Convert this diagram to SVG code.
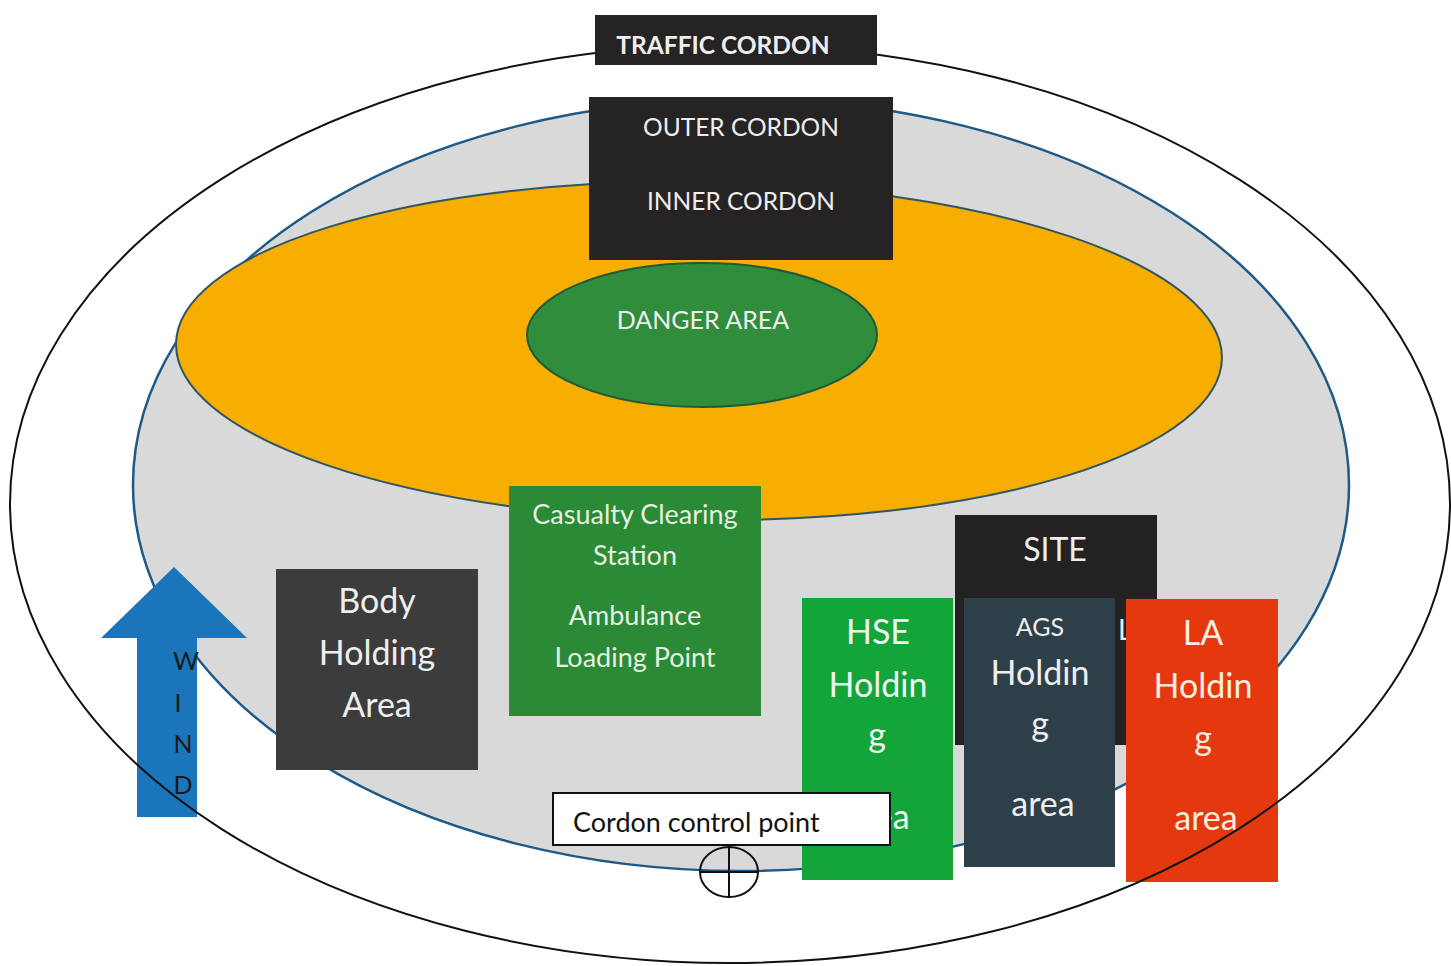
<svg xmlns="http://www.w3.org/2000/svg" width="1451" height="966" viewBox="0 0 1451 966">
<style>
text{font-family:Lato,"Liberation Sans",sans-serif;text-anchor:middle}
.w{fill:#eeeeee}
.big{font-size:34px}
.mid{font-size:27px}
</style>
<rect width="1451" height="966" fill="#ffffff"/>
<g id="outer-cordon-area">
<ellipse cx="741" cy="485" rx="608" ry="386" fill="#d9d9d9" stroke="#1d5a88" stroke-width="2.5"/>
</g>
<g id="inner-cordon-area">
<ellipse cx="699" cy="351" rx="523" ry="169" fill="#f7ae00" stroke="#2e5566" stroke-width="2" transform="rotate(0.8 699 351)"/>
</g>
<g id="danger-area">
<ellipse cx="702" cy="335" rx="175" ry="72" fill="#2f8d3c" stroke="#1f5a3a" stroke-width="2"/>
<text x="703" y="329" class="w" style="font-size:25px">DANGER AREA</text>
</g>
<g id="outer-inner-cordon">
<rect x="589" y="97" width="304" height="163" fill="#262324"/>
<text x="741" y="136" class="w" style="font-size:24.5px">OUTER CORDON</text>
<text x="741" y="210" class="w" style="font-size:24.5px">INNER CORDON</text>
</g>
<g id="casualty-clearing">
<rect x="509" y="486" width="252" height="230" fill="#2a8a36"/>
<text x="635" y="524" class="mid" fill="#e6efe2">Casualty Clearing</text>
<text x="635" y="565" class="mid" fill="#e6efe2">Station</text>
<text x="635" y="625" class="mid" fill="#e6efe2">Ambulance</text>
<text x="635" y="667" class="mid" fill="#e6efe2">Loading Point</text>
</g>
<g id="body-holding">
<rect x="276" y="569" width="202" height="201" fill="#3c3c3c"/>
<text x="377" y="613" class="big w">Body</text>
<text x="377" y="665" class="big w">Holding</text>
<text x="377" y="717" class="big w">Area</text>
</g>
<g id="wind">
<polygon points="174,567 247,638 197,638 197,817 137,817 137,638 101,638" fill="#1b75bb"/>
<text x="186" y="670" style="font-size:25px" fill="#1a1a1a">W</text>
<text x="178" y="712" style="font-size:25px" fill="#1a1a1a">I</text>
<text x="183" y="753" style="font-size:25px" fill="#1a1a1a">N</text>
<text x="183" y="794" style="font-size:25px" fill="#1a1a1a">D</text>
</g>
<g id="site">
<rect x="955" y="515" width="202" height="230" fill="#242122"/>
<text x="1055" y="561" class="w" style="font-size:32px">SITE</text>
<text x="1118" y="640" style="font-size:28px;text-anchor:start" class="w">L</text>
</g>
<g id="hse">
<rect x="802" y="598" width="151" height="282" fill="#14a53a"/>
<text x="878" y="644" class="big" fill="#eef5ee">HSE</text>
<text x="878" y="697" class="big" fill="#eef5ee">Holdin</text>
<text x="877" y="747" class="big" fill="#eef5ee">g</text>
<text x="878" y="829" class="big" fill="#eef5ee">area</text>
</g>
<g id="ags">
<rect x="964" y="598" width="151" height="269" fill="#2d3f48"/>
<text x="1040" y="636" class="w" style="font-size:25px">AGS</text>
<text x="1040" y="685" class="big w">Holdin</text>
<text x="1040" y="736" class="big w">g</text>
<text x="1043" y="816" class="big w">area</text>
</g>
<g id="la">
<rect x="1126" y="599" width="152" height="283" fill="#e5380f"/>
<text x="1203" y="645" class="big" fill="#fbeee0">LA</text>
<text x="1203" y="698" class="big" fill="#fbeee0">Holdin</text>
<text x="1203" y="750" class="big" fill="#fbeee0">g</text>
<text x="1206" y="830" class="big" fill="#fbeee0">area</text>
</g>
<g id="traffic-cordon-line">
<ellipse cx="730" cy="504" rx="720" ry="459" fill="none" stroke="#111111" stroke-width="2"/>
</g>
<g id="traffic-cordon">
<rect x="595" y="15" width="282" height="50" fill="#262324"/>
<text x="723" y="54" style="font-size:24.5px;font-weight:bold" class="w">TRAFFIC CORDON</text>
</g>
<g id="cordon-control-point">
<rect x="553" y="793" width="337" height="52" fill="#ffffff" stroke="#111111" stroke-width="2"/>
<text x="573" y="832" style="font-size:27px;text-anchor:start" fill="#111111">Cordon control point</text>
</g>
<g id="connectors">
<ellipse cx="729" cy="872" rx="29" ry="25" fill="none" stroke="#111111" stroke-width="2"/>
<line x1="700" y1="872" x2="758" y2="872" stroke="#111111" stroke-width="2"/>
<line x1="729" y1="847" x2="729" y2="897" stroke="#111111" stroke-width="2"/>
</g>
</svg>
